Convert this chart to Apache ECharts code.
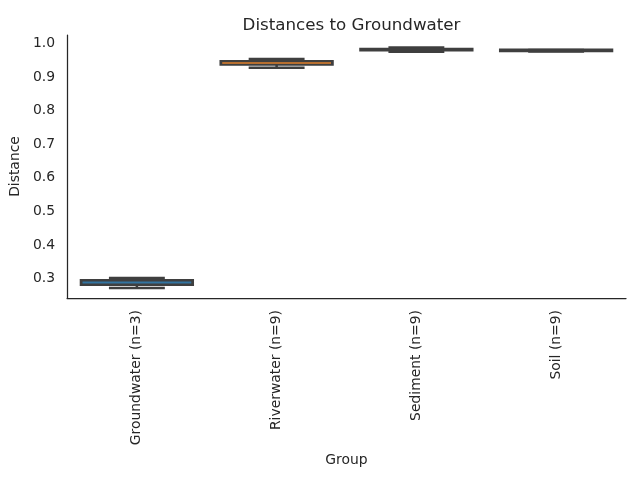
<!DOCTYPE html>
<html>
<head>
<meta charset="utf-8">
<script src="https://cdn.jsdelivr.net/npm/echarts@6/dist/echarts.min.js"></script>
<style>html,body{margin:0;padding:0;background:#fff;}#c{width:640px;height:480px;}</style>
</head>
<body>
<div id="c"></div>
<script>
const categories = ['Groundwater (n=3)', 'Riverwater (n=9)', 'Sediment (n=9)', 'Soil (n=9)'];
const whiskerLow  = [0.2717, 0.928, 0.9756, 0.9768];
const q1          = [0.2814, 0.9375, 0.9798, 0.9782];
const median      = [0.288, 0.942, 0.982, 0.979];
const q3          = [0.2948, 0.9476, 0.9838, 0.9818];
const whiskerHigh = [0.3015, 0.954, 0.988, 0.9812];
const yTicks = [0.3, 0.4, 0.5, 0.6, 0.7, 0.8, 0.9, 1.0];

const faceColors = ['#3274a1', '#e1812c', '#3a923a', '#c03d3e'];
const edge = '#3f3f3f';
const txt = '#262626';
const font = 'DejaVu Sans';

const data = categories.map((c, i) => [i, whiskerLow[i], q1[i], median[i], q3[i], whiskerHigh[i]]);

function renderItem(params, api) {
  const idx = api.value(0);
  const bw = api.size([1, 0])[0] * 0.8;
  const cx = api.coord([idx, 0])[0];
  const y = v => api.coord([idx, v])[1];
  const yLo = y(api.value(1)), yQ1 = y(api.value(2)), yMed = y(api.value(3)), yQ3 = y(api.value(4)), yHi = y(api.value(5));
  const lw = 2.5;
  const ls = {stroke: edge, lineWidth: lw, fill: null};
  const h = yQ1 - yQ3;
  const children = [
    {type: 'line', shape: {x1: cx, y1: yQ3, x2: cx, y2: yHi}, style: ls},
    {type: 'line', shape: {x1: cx, y1: yQ1, x2: cx, y2: yLo}, style: ls},
    {type: 'line', shape: {x1: cx - bw / 4, y1: yHi, x2: cx + bw / 4, y2: yHi}, style: ls},
    {type: 'line', shape: {x1: cx - bw / 4, y1: yLo, x2: cx + bw / 4, y2: yLo}, style: ls},
    {type: 'rect', shape: {x: cx - bw / 2, y: yQ3, width: bw, height: h},
      style: {fill: edge, stroke: edge, lineWidth: lw}}
  ];
  if (h > lw) {
    children.push({type: 'line', shape: {x1: cx - bw / 2 + 1.5, y1: yMed, x2: cx + bw / 2 - 1.5, y2: yMed},
      style: {stroke: faceColors[idx], lineWidth: Math.min(2, h - lw + 0.5)}});
  }
  return {type: 'group', children: children};
}

const chart = echarts.init(document.getElementById('c'), null, {renderer: 'canvas'});
chart.setOption({
  animation: false,
  backgroundColor: '#ffffff',
  title: {
    text: 'Distances to Groundwater',
    left: 346.5, top: 12, textAlign: 'center',
    textStyle: {fontFamily: font, fontSize: 16.7, fontWeight: 'normal', color: txt}
  },
  grid: {left: 67, right: 14, top: 35, bottom: 182},
  xAxis: {
    type: 'category',
    data: categories,
    name: 'Group', nameLocation: 'middle', nameGap: 152,
    nameTextStyle: {fontFamily: font, fontSize: 13.9, color: txt},
    axisLine: {show: true, lineStyle: {color: txt, width: 1.25}},
    axisTick: {show: false},
    axisLabel: {rotate: 90, margin: 12, fontFamily: font, fontSize: 13.9, color: txt, interval: 0},
    splitLine: {show: false}
  },
  yAxis: {
    type: 'value',
    min: 0.2419, max: 1.0256,
    name: 'Distance', nameLocation: 'middle', nameGap: 30, nameRotate: 90,
    nameTextStyle: {fontFamily: font, fontSize: 13.9, color: txt},
    axisLine: {show: true, lineStyle: {color: txt, width: 1.25}},
    axisTick: {show: false, customValues: yTicks},
    axisLabel: {customValues: yTicks, margin: 12, fontFamily: font, fontSize: 13.9, color: txt,
      formatter: v => v.toFixed(1)},
    splitLine: {show: false}
  },
  series: [{
    type: 'custom',
    renderItem: renderItem,
    encode: {x: 0, y: [1, 2, 3, 4, 5]},
    data: data
  }]
});
</script>
</body>
</html>
